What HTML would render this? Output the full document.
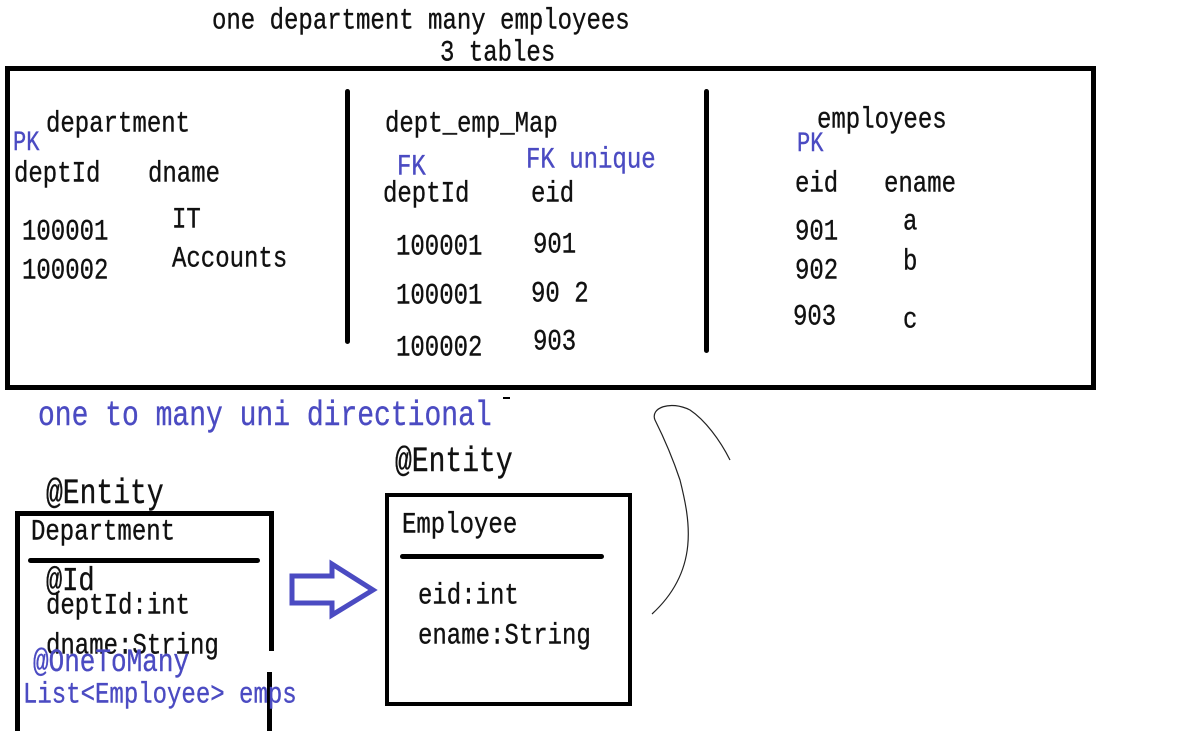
<!DOCTYPE html>
<html><head><meta charset="utf-8"><style>
html,body{margin:0;padding:0;background:#fff;}
body{width:1203px;height:731px;position:relative;overflow:hidden;font-family:"Liberation Mono","DejaVu Sans Mono",monospace;color:#111;}
.t{position:absolute;white-space:pre;font-size:24px;line-height:1;transform:scaleY(1.25);transform-origin:0 0;-webkit-text-stroke:0.3px #111;}
.b{color:#4b4bc2;-webkit-text-stroke:0.3px #4b4bc2;}
.r{position:absolute;background:#000;}
</style></head><body>
<div class="t" style="left:212px;top:7px">one department many employees</div>
<div class="t" style="left:440px;top:39px">3 tables</div>

<div style="position:absolute;left:5px;top:66px;width:1081px;height:314px;border:5px solid #000"></div>
<div class="r" style="left:345px;top:89px;width:5px;height:255px;border-radius:3px"></div>
<div class="r" style="left:704px;top:89px;width:5px;height:264px;border-radius:3px"></div>

<div class="t" style="left:46px;top:110px">department</div>
<div class="t b" style="left:13px;top:130px;font-size:22px">PK</div>
<div class="t" style="left:14px;top:160px">deptId</div>
<div class="t" style="left:148px;top:160px">dname</div>
<div class="t" style="left:22px;top:218px">100001</div>
<div class="t" style="left:172px;top:206px">IT</div>
<div class="t" style="left:22px;top:257px">100002</div>
<div class="t" style="left:172px;top:245px">Accounts</div>

<div class="t" style="left:385px;top:110px">dept_emp_Map</div>
<div class="t b" style="left:397px;top:153px">FK</div>
<div class="t b" style="left:526px;top:146px">FK unique</div>
<div class="t" style="left:383px;top:180px">deptId</div>
<div class="t" style="left:531px;top:180px">eid</div>
<div class="t" style="left:396px;top:233px">100001</div>
<div class="t" style="left:533px;top:231px">901</div>
<div class="t" style="left:396px;top:282px">100001</div>
<div class="t" style="left:531px;top:280px">90 2</div>
<div class="t" style="left:396px;top:334px">100002</div>
<div class="t" style="left:533px;top:328px">903</div>

<div class="t" style="left:817px;top:106px">employees</div>
<div class="t b" style="left:797px;top:131px;font-size:22px">PK</div>
<div class="t" style="left:795px;top:170px">eid</div>
<div class="t" style="left:884px;top:170px">ename</div>
<div class="t" style="left:795px;top:218px">901</div>
<div class="t" style="left:903px;top:208px">a</div>
<div class="t" style="left:795px;top:257px">902</div>
<div class="t" style="left:903px;top:248px">b</div>
<div class="t" style="left:793px;top:303px">903</div>
<div class="t" style="left:903px;top:306px">c</div>

<div class="t b" style="left:38px;top:400px;font-size:28px">one to many uni directional</div>
<div class="r" style="left:503px;top:397px;width:7px;height:2px"></div>

<div class="t" style="left:395px;top:446px;font-size:28px">@Entity</div>
<div class="t" style="left:46px;top:478px;font-size:28px">@Entity</div>

<div class="r" style="left:15px;top:511px;width:259px;height:5px"></div>
<div class="r" style="left:15px;top:511px;width:5px;height:220px"></div>
<div class="r" style="left:269px;top:511px;width:5px;height:140px"></div>
<div class="r" style="left:267px;top:672px;width:5px;height:59px"></div>
<div class="r" style="left:28px;top:558px;width:232px;height:5px;border-radius:3px"></div>
<div class="t" style="left:31px;top:518px">Department</div>
<div class="t" style="left:46px;top:566px;font-size:27px">@Id</div>
<div class="t" style="left:46px;top:592px">deptId:int</div>
<div class="t" style="left:46px;top:632px">dname:String</div>
<div class="t b" style="left:33px;top:646px;font-size:26px">@OneToMany</div>
<div class="t b" style="left:23px;top:681px">List&lt;Employee&gt; emps</div>

<svg style="position:absolute;left:0;top:0" width="1203" height="731">
<polygon points="292,576 332,576 332,564 373,590 332,615 332,603 292,603" fill="none" stroke="#4b4bc2" stroke-width="5"/>
<path d="M652,614 C700,570 690,520 680,480 C670,450 660,430 655,420 C650,408 670,400 690,410 C705,420 720,440 730,460" fill="none" stroke="#222" stroke-width="1.2"/>
</svg>

<div style="position:absolute;left:385px;top:493px;width:239px;height:205px;border:4px solid #000"></div>
<div class="r" style="left:400px;top:554px;width:204px;height:5px;border-radius:3px"></div>
<div class="t" style="left:402px;top:511px">Employee</div>
<div class="t" style="left:418px;top:582px">eid:int</div>
<div class="t" style="left:418px;top:622px">ename:String</div>
</body></html>
